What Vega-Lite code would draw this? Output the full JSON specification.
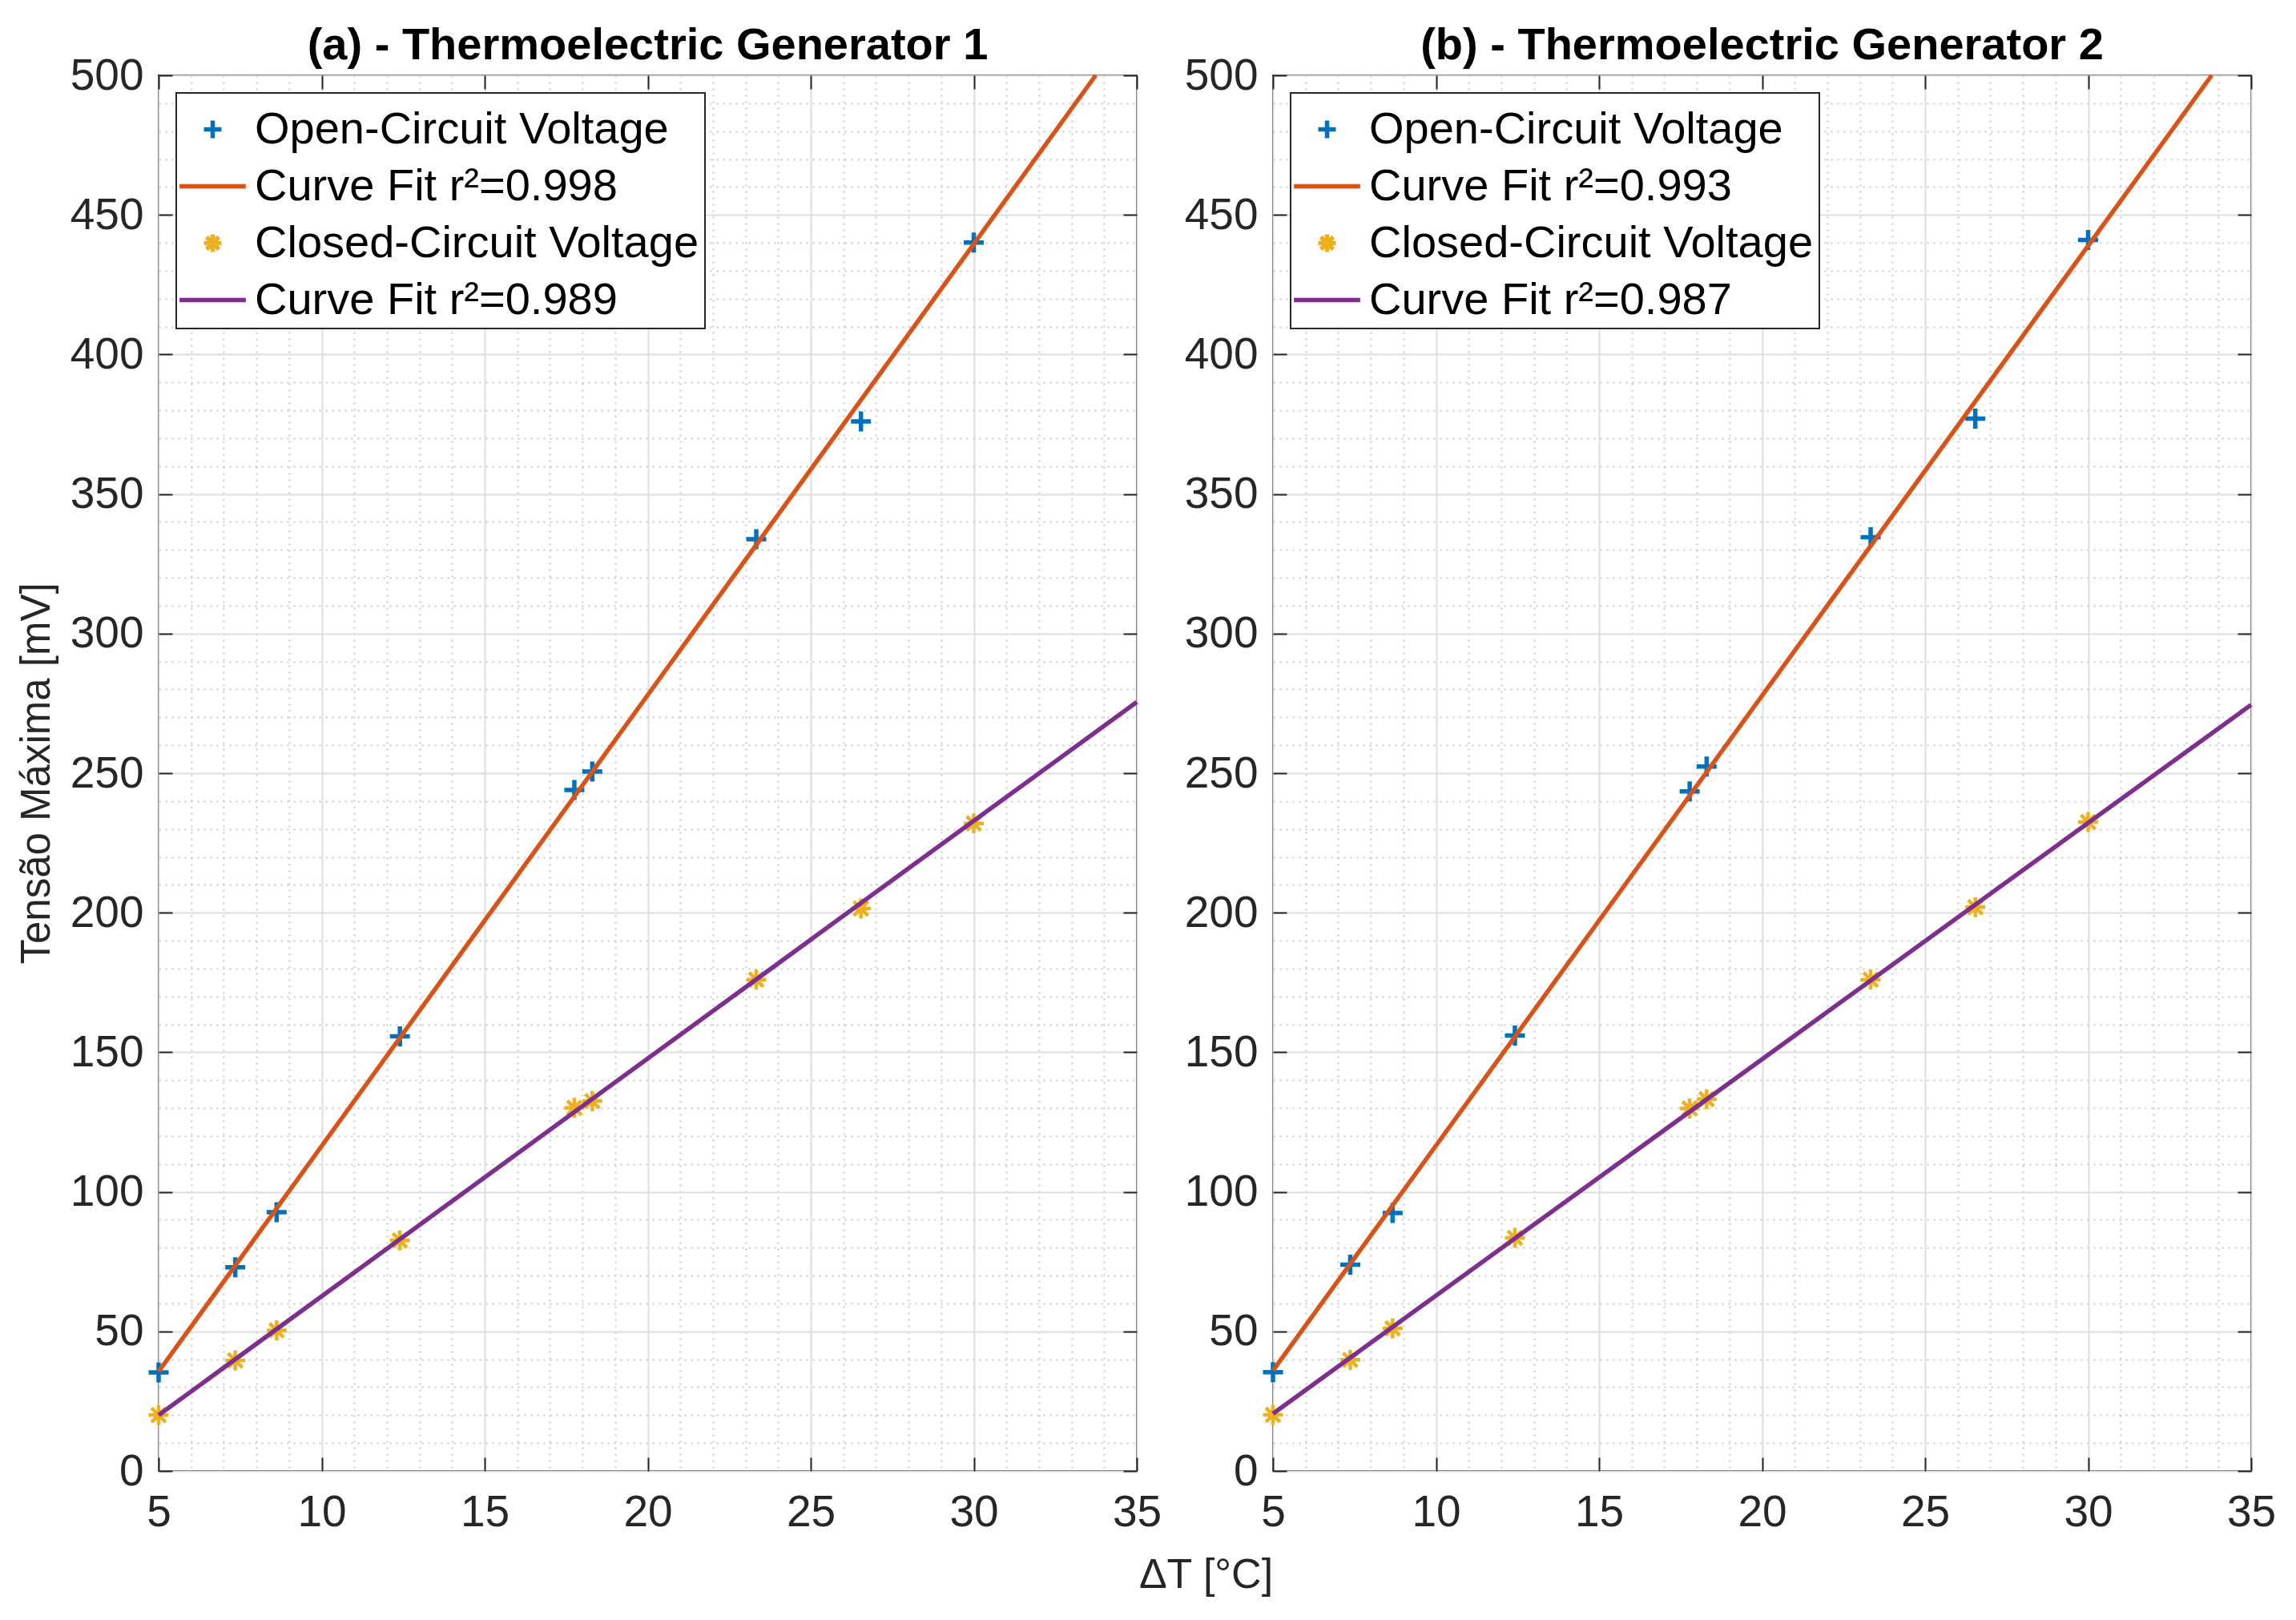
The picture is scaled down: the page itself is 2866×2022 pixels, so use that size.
{
  "$schema": "https://vega.github.io/schema/vega-lite/v6.json",
  "background": "white",
  "padding": {"left": 19, "top": 28, "right": 20, "bottom": 10},
  "bounds": "flush",
  "spacing": 170,
  "config": {
    "font": "Liberation Sans",
    "view": {"stroke": "#262626", "strokeWidth": 2},
    "axis": {
      "labelFont": "Liberation Sans",
      "labelFontSize": 55,
      "labelColor": "#262626",
      "titleFont": "Liberation Sans",
      "titleColor": "#262626",
      "titleFontWeight": "normal",
      "domain": false
    },
    "title": {"font": "Liberation Sans", "fontSize": 56, "fontWeight": "bold", "color": "#000000", "offset": -19},
    "legend": {
      "orient": "top-left",
      "offset": 22,
      "padding": 7,
      "title": null,
      "fillColor": "white",
      "strokeColor": "#262626",
      "strokeWidth": 2,
      "labelFont": "Liberation Sans",
      "labelFontSize": 56,
      "labelColor": "#000000",
      "labelOffset": 14,
      "labelLimit": 0,
      "symbolSize": 5000,
      "symbolStrokeWidth": 5.5,
      "symbolFillColor": "transparent",
      "rowPadding": 4
    }
  },
  "datasets": {
    "tegA": [
      {"dT": 5.0, "V": 35.3, "series": "Open-Circuit Voltage"},
      {"dT": 7.35, "V": 73.0, "series": "Open-Circuit Voltage"},
      {"dT": 8.62, "V": 92.7, "series": "Open-Circuit Voltage"},
      {"dT": 12.4, "V": 155.7, "series": "Open-Circuit Voltage"},
      {"dT": 17.75, "V": 244.0, "series": "Open-Circuit Voltage"},
      {"dT": 18.3, "V": 250.6, "series": "Open-Circuit Voltage"},
      {"dT": 23.33, "V": 333.8, "series": "Open-Circuit Voltage"},
      {"dT": 26.54, "V": 376.0, "series": "Open-Circuit Voltage"},
      {"dT": 30.0, "V": 440.1, "series": "Open-Circuit Voltage"},
      {"dT": 5.0, "V": 35.6, "series": "Curve Fit r²=0.998"},
      {"dT": 33.74, "V": 500.0, "series": "Curve Fit r²=0.998"},
      {"dT": 5.0, "V": 20.0, "series": "Closed-Circuit Voltage"},
      {"dT": 7.35, "V": 39.6, "series": "Closed-Circuit Voltage"},
      {"dT": 8.62, "V": 50.4, "series": "Closed-Circuit Voltage"},
      {"dT": 12.4, "V": 82.6, "series": "Closed-Circuit Voltage"},
      {"dT": 17.75, "V": 130.1, "series": "Closed-Circuit Voltage"},
      {"dT": 18.3, "V": 132.5, "series": "Closed-Circuit Voltage"},
      {"dT": 23.33, "V": 176.0, "series": "Closed-Circuit Voltage"},
      {"dT": 26.54, "V": 201.5, "series": "Closed-Circuit Voltage"},
      {"dT": 30.0, "V": 232.0, "series": "Closed-Circuit Voltage"},
      {"dT": 5.0, "V": 20.0, "series": "Curve Fit r²=0.989"},
      {"dT": 35.0, "V": 275.5, "series": "Curve Fit r²=0.989"}
    ],
    "tegB": [
      {"dT": 5.0, "V": 35.4, "series": "Open-Circuit Voltage"},
      {"dT": 7.37, "V": 73.9, "series": "Open-Circuit Voltage"},
      {"dT": 8.67, "V": 92.4, "series": "Open-Circuit Voltage"},
      {"dT": 12.42, "V": 156.0, "series": "Open-Circuit Voltage"},
      {"dT": 17.78, "V": 243.5, "series": "Open-Circuit Voltage"},
      {"dT": 18.3, "V": 252.4, "series": "Open-Circuit Voltage"},
      {"dT": 23.33, "V": 334.5, "series": "Open-Circuit Voltage"},
      {"dT": 26.54, "V": 377.0, "series": "Open-Circuit Voltage"},
      {"dT": 30.0, "V": 441.0, "series": "Open-Circuit Voltage"},
      {"dT": 5.0, "V": 36.0, "series": "Curve Fit r²=0.993"},
      {"dT": 33.79, "V": 500.0, "series": "Curve Fit r²=0.993"},
      {"dT": 5.0, "V": 20.1, "series": "Closed-Circuit Voltage"},
      {"dT": 7.37, "V": 39.8, "series": "Closed-Circuit Voltage"},
      {"dT": 8.67, "V": 51.1, "series": "Closed-Circuit Voltage"},
      {"dT": 12.42, "V": 83.5, "series": "Closed-Circuit Voltage"},
      {"dT": 17.78, "V": 129.9, "series": "Closed-Circuit Voltage"},
      {"dT": 18.3, "V": 133.2, "series": "Closed-Circuit Voltage"},
      {"dT": 23.33, "V": 176.0, "series": "Closed-Circuit Voltage"},
      {"dT": 26.54, "V": 202.0, "series": "Closed-Circuit Voltage"},
      {"dT": 30.0, "V": 232.5, "series": "Closed-Circuit Voltage"},
      {"dT": 5.0, "V": 20.5, "series": "Curve Fit r²=0.987"},
      {"dT": 35.0, "V": 274.5, "series": "Curve Fit r²=0.987"}
    ]
  },
  "hconcat": [
    {
      "width": 1221,
      "height": 1742,
      "title": "(a) - Thermoelectric Generator 1",
      "data": {"name": "tegA"},
      "layer": [
        {
          "transform": [{"filter": "datum.series === 'Open-Circuit Voltage'"}],
          "mark": {"type": "point", "filled": false, "size": 6500, "strokeWidth": 5.5, "opacity": 1},
          "encoding": {
            "x": {
              "field": "dT", "type": "quantitative",
              "scale": {"domain": [5, 35], "nice": false, "zero": false},
              "axis": {
                "values": [5,6,7,8,9,10,11,12,13,14,15,16,17,18,19,20,21,22,23,24,25,26,27,28,29,30,31,32,33,34,35],
                "labelExpr": "datum.value % 5 === 0 ? datum.label : ''",
                "labelOverlap": false, "labelFlush": false, "labelBound": false,
                "tickSize": -17, "tickWidth": 2, "tickColor": "#262626",
                "tickOpacity": {"condition": {"test": "datum.value % 5 !== 0", "value": 0}, "value": 1},
                "labelPadding": 42,
                "grid": true, "gridWidth": 2,
                "gridColor": {"condition": {"test": "datum.value % 5 !== 0", "value": "#c8c8c8"}, "value": "#dedede"},
                "gridDash": {"condition": {"test": "datum.value % 5 !== 0", "value": [2, 6]}, "value": []},
                "title": "ΔT [°C]", "titleFontSize": 52,
                "titleX": 1307, "titleY": 129, "titleBaseline": "middle", "titleAlign": "center"
              }
            },
            "y": {
              "field": "V", "type": "quantitative",
              "scale": {"domain": [0, 500], "nice": false},
              "axis": {
                "values": [0,10,20,30,40,50,60,70,80,90,100,110,120,130,140,150,160,170,180,190,200,210,220,230,240,250,260,270,280,290,300,310,320,330,340,350,360,370,380,390,400,410,420,430,440,450,460,470,480,490,500],
                "labelExpr": "datum.value % 50 === 0 ? datum.label : ''",
                "labelOverlap": false, "labelFlush": false, "labelBound": false,
                "tickSize": -17, "tickWidth": 2, "tickColor": "#262626",
                "tickOpacity": {"condition": {"test": "datum.value % 50 !== 0", "value": 0}, "value": 1},
                "labelPadding": 36,
                "grid": true, "gridWidth": 2,
                "gridColor": {"condition": {"test": "datum.value % 50 !== 0", "value": "#c8c8c8"}, "value": "#dedede"},
                "gridDash": {"condition": {"test": "datum.value % 50 !== 0", "value": [2, 6]}, "value": []},
                "title": "Tensão Máxima [mV]", "titleFontSize": 51,
                "titleX": -152, "titleY": 871, "titleBaseline": "middle", "titleAlign": "center", "titleAngle": -90
              }
            },
            "color": {
              "field": "series", "type": "nominal",
              "scale": {"domain": ["Open-Circuit Voltage", "Curve Fit r²=0.998", "Closed-Circuit Voltage", "Curve Fit r²=0.989"], "range": ["#0072BD", "#D95319", "#EDB120", "#7E2F8E"]}
            },
            "shape": {
              "field": "series", "type": "nominal",
              "scale": {"domain": ["Open-Circuit Voltage", "Curve Fit r²=0.998", "Closed-Circuit Voltage", "Curve Fit r²=0.989"], "range": ["M-0.31,0L0.31,0M0,-0.31L0,0.31", "M-1.17,0L1.17,0", "M-0.31,0L0.31,0M0,-0.31L0,0.31M-0.22,-0.22L0.22,0.22M-0.22,0.22L0.22,-0.22", "M-1.17,0L1.17,0"]}
            }
          }
        },
        {
          "transform": [{"filter": "datum.series === 'Curve Fit r²=0.998'"}],
          "mark": {"type": "line", "strokeWidth": 5.5},
          "encoding": {
            "x": {"field": "dT", "type": "quantitative", "axis": {"orient": "top", "values": [5,10,15,20,25,30,35], "labels": false, "grid": false, "tickSize": -17, "tickWidth": 2, "tickColor": "#262626", "title": null}},
            "y": {"field": "V", "type": "quantitative", "axis": {"orient": "right", "values": [0,50,100,150,200,250,300,350,400,450,500], "labels": false, "grid": false, "tickSize": -17, "tickWidth": 2, "tickColor": "#262626", "title": null}},
            "color": {"field": "series", "type": "nominal"}
          }
        },
        {
          "transform": [{"filter": "datum.series === 'Closed-Circuit Voltage'"}],
          "mark": {"type": "point", "filled": false, "size": 6500, "strokeWidth": 4.5, "opacity": 1},
          "encoding": {
            "x": {"field": "dT", "type": "quantitative", "axis": null},
            "y": {"field": "V", "type": "quantitative", "axis": null},
            "color": {"field": "series", "type": "nominal"},
            "shape": {"field": "series", "type": "nominal"}
          }
        },
        {
          "transform": [{"filter": "datum.series === 'Curve Fit r²=0.989'"}],
          "mark": {"type": "line", "strokeWidth": 5.5},
          "encoding": {
            "x": {"field": "dT", "type": "quantitative", "axis": null},
            "y": {"field": "V", "type": "quantitative", "axis": null},
            "color": {"field": "series", "type": "nominal"}
          }
        }
      ],
      "resolve": {"axis": {"x": "independent", "y": "independent"}}
    },
    {
      "width": 1221,
      "height": 1742,
      "title": "(b) - Thermoelectric Generator 2",
      "data": {"name": "tegB"},
      "layer": [
        {
          "transform": [{"filter": "datum.series === 'Open-Circuit Voltage'"}],
          "mark": {"type": "point", "filled": false, "size": 6500, "strokeWidth": 5.5, "opacity": 1},
          "encoding": {
            "x": {
              "field": "dT", "type": "quantitative",
              "scale": {"domain": [5, 35], "nice": false, "zero": false},
              "axis": {
                "values": [5,6,7,8,9,10,11,12,13,14,15,16,17,18,19,20,21,22,23,24,25,26,27,28,29,30,31,32,33,34,35],
                "labelExpr": "datum.value % 5 === 0 ? datum.label : ''",
                "labelOverlap": false, "labelFlush": false, "labelBound": false,
                "tickSize": -17, "tickWidth": 2, "tickColor": "#262626",
                "tickOpacity": {"condition": {"test": "datum.value % 5 !== 0", "value": 0}, "value": 1},
                "labelPadding": 42,
                "grid": true, "gridWidth": 2,
                "gridColor": {"condition": {"test": "datum.value % 5 !== 0", "value": "#c8c8c8"}, "value": "#dedede"},
                "gridDash": {"condition": {"test": "datum.value % 5 !== 0", "value": [2, 6]}, "value": []},
                "title": null
              }
            },
            "y": {
              "field": "V", "type": "quantitative",
              "scale": {"domain": [0, 500], "nice": false},
              "axis": {
                "values": [0,10,20,30,40,50,60,70,80,90,100,110,120,130,140,150,160,170,180,190,200,210,220,230,240,250,260,270,280,290,300,310,320,330,340,350,360,370,380,390,400,410,420,430,440,450,460,470,480,490,500],
                "labelExpr": "datum.value % 50 === 0 ? datum.label : ''",
                "labelOverlap": false, "labelFlush": false, "labelBound": false,
                "tickSize": -17, "tickWidth": 2, "tickColor": "#262626",
                "tickOpacity": {"condition": {"test": "datum.value % 50 !== 0", "value": 0}, "value": 1},
                "labelPadding": 36,
                "grid": true, "gridWidth": 2,
                "gridColor": {"condition": {"test": "datum.value % 50 !== 0", "value": "#c8c8c8"}, "value": "#dedede"},
                "gridDash": {"condition": {"test": "datum.value % 50 !== 0", "value": [2, 6]}, "value": []},
                "title": null
              }
            },
            "color": {
              "field": "series", "type": "nominal",
              "scale": {"domain": ["Open-Circuit Voltage", "Curve Fit r²=0.993", "Closed-Circuit Voltage", "Curve Fit r²=0.987"], "range": ["#0072BD", "#D95319", "#EDB120", "#7E2F8E"]}
            },
            "shape": {
              "field": "series", "type": "nominal",
              "scale": {"domain": ["Open-Circuit Voltage", "Curve Fit r²=0.993", "Closed-Circuit Voltage", "Curve Fit r²=0.987"], "range": ["M-0.31,0L0.31,0M0,-0.31L0,0.31", "M-1.17,0L1.17,0", "M-0.31,0L0.31,0M0,-0.31L0,0.31M-0.22,-0.22L0.22,0.22M-0.22,0.22L0.22,-0.22", "M-1.17,0L1.17,0"]}
            }
          }
        },
        {
          "transform": [{"filter": "datum.series === 'Curve Fit r²=0.993'"}],
          "mark": {"type": "line", "strokeWidth": 5.5},
          "encoding": {
            "x": {"field": "dT", "type": "quantitative", "axis": {"orient": "top", "values": [5,10,15,20,25,30,35], "labels": false, "grid": false, "tickSize": -17, "tickWidth": 2, "tickColor": "#262626", "title": null}},
            "y": {"field": "V", "type": "quantitative", "axis": {"orient": "right", "values": [0,50,100,150,200,250,300,350,400,450,500], "labels": false, "grid": false, "tickSize": -17, "tickWidth": 2, "tickColor": "#262626", "title": null}},
            "color": {"field": "series", "type": "nominal"}
          }
        },
        {
          "transform": [{"filter": "datum.series === 'Closed-Circuit Voltage'"}],
          "mark": {"type": "point", "filled": false, "size": 6500, "strokeWidth": 4.5, "opacity": 1},
          "encoding": {
            "x": {"field": "dT", "type": "quantitative", "axis": null},
            "y": {"field": "V", "type": "quantitative", "axis": null},
            "color": {"field": "series", "type": "nominal"},
            "shape": {"field": "series", "type": "nominal"}
          }
        },
        {
          "transform": [{"filter": "datum.series === 'Curve Fit r²=0.987'"}],
          "mark": {"type": "line", "strokeWidth": 5.5},
          "encoding": {
            "x": {"field": "dT", "type": "quantitative", "axis": null},
            "y": {"field": "V", "type": "quantitative", "axis": null},
            "color": {"field": "series", "type": "nominal"}
          }
        }
      ],
      "resolve": {"axis": {"x": "independent", "y": "independent"}}
    }
  ],
  "resolve": {"scale": {"color": "independent", "shape": "independent"}}
}
